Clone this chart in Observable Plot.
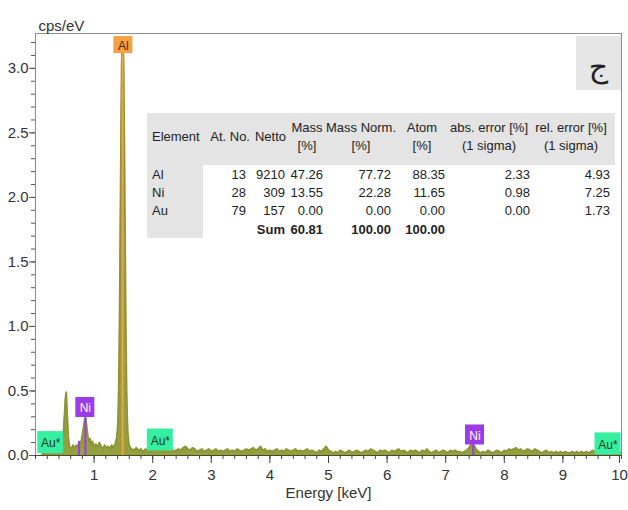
<!DOCTYPE html>
<html>
<head>
<meta charset="utf-8">
<script src="https://cdn.jsdelivr.net/npm/d3@7"></script>
<script src="https://cdn.jsdelivr.net/npm/@observablehq/plot@0.6"></script>
<style>
  body { margin: 0; background: #fff; }
  #chart { position: relative; width: 628px; height: 510px; font-family: "Liberation Sans", Arial, sans-serif; color: #333; }
  #chart svg { position: absolute; left: 0; top: 0; }
  .cell { position: absolute; font-size: 13px; line-height: 16px; white-space: nowrap; color: #222; }
  .bg { position: absolute; background: #e4e4e4; }
  .panel { position: absolute; background: #e6e6e6; text-align: center;
           font-family: "DejaVu Sans", "Noto Sans", sans-serif; font-size: 30px; line-height: 30px; color: #222; }
</style>
</head>
<body>
<div id="chart"></div>
<script>
// Low-energy part of the EDS spectrum (keV, cps/eV), including the O, Ni-L and Al-K peaks
const lowKeV = [0.10, 0.14, 0.18, 0.22, 0.26, 0.30, 0.34, 0.38, 0.42, 0.45, 0.47, 0.49, 0.51, 0.525, 0.54, 0.56, 0.58,
  0.61, 0.64, 0.67, 0.70, 0.72, 0.74, 0.76, 0.78, 0.80, 0.82, 0.84, 0.855, 0.87, 0.89, 0.91, 0.93, 0.95, 0.97,
  1.00, 1.03, 1.06, 1.09, 1.12, 1.15, 1.18, 1.21, 1.24, 1.27, 1.30, 1.33, 1.36, 1.38, 1.40, 1.41, 1.42, 1.43,
  1.44, 1.45, 1.46, 1.47, 1.48, 1.487, 1.495, 1.505, 1.515, 1.525, 1.535, 1.545, 1.555, 1.565, 1.575, 1.59, 1.60, 1.62];
const lowCps = [0.00, 0.02, 0.03, 0.025, 0.04, 0.035, 0.05, 0.06, 0.07, 0.08, 0.13, 0.27, 0.44, 0.49, 0.33, 0.14, 0.07,
  0.05, 0.08, 0.06, 0.08, 0.06, 0.10, 0.07, 0.11, 0.16, 0.22, 0.28, 0.30, 0.24, 0.16, 0.10, 0.13, 0.08, 0.11,
  0.07, 0.09, 0.06, 0.10, 0.07, 0.05, 0.08, 0.06, 0.07, 0.05, 0.08, 0.06, 0.09, 0.12, 0.20, 0.30, 0.50, 0.85,
  1.35, 1.95, 2.50, 3.02, 3.17, 3.20, 3.17, 3.02, 2.50, 1.95, 1.35, 0.85, 0.50, 0.30, 0.18, 0.10, 0.08, 0.06];

// Background from 1.64 keV to 10.00 keV on 0.04 keV channels
const bgStartKeV = 1.64, bgStepKeV = 0.04;
const bgCps = [
  0.05, 0.04, 0.06, 0.04, 0.05, 0.03, 0.05, 0.04, 0.03, 0.05,
  0.04, 0.06, 0.05, 0.04, 0.03, 0.05, 0.04, 0.06, 0.03, 0.04,
  0.05, 0.04, 0.06, 0.07, 0.05, 0.04, 0.06, 0.05, 0.03, 0.04,
  0.05, 0.03, 0.04, 0.05, 0.03, 0.04, 0.05, 0.03, 0.04, 0.03,
  0.04, 0.05, 0.03, 0.04, 0.03, 0.05, 0.04, 0.03, 0.04, 0.05,
  0.04, 0.05, 0.06, 0.04, 0.05, 0.07, 0.04, 0.05, 0.03, 0.04,
  0.03, 0.04, 0.05, 0.03, 0.04, 0.03, 0.05, 0.04, 0.03, 0.04,
  0.05, 0.03, 0.04, 0.03, 0.04, 0.05, 0.03, 0.04, 0.03, 0.02,
  0.04, 0.03, 0.05, 0.07, 0.04, 0.03, 0.02, 0.03, 0.02, 0.04,
  0.03, 0.02, 0.03, 0.04, 0.02, 0.03, 0.04, 0.03, 0.02, 0.03,
  0.04, 0.03, 0.05, 0.04, 0.03, 0.02, 0.04, 0.03, 0.04, 0.03,
  0.02, 0.04, 0.03, 0.04, 0.05, 0.03, 0.04, 0.03, 0.02, 0.04,
  0.03, 0.04, 0.03, 0.02, 0.04, 0.03, 0.05, 0.03, 0.02, 0.03,
  0.04, 0.02, 0.03, 0.04, 0.03, 0.02, 0.04, 0.03, 0.04, 0.03,
  0.03, 0.02, 0.03, 0.04, 0.06, 0.09, 0.08, 0.05, 0.03, 0.02,
  0.03, 0.02, 0.04, 0.03, 0.02, 0.03, 0.04, 0.03, 0.02, 0.04,
  0.03, 0.05, 0.04, 0.05, 0.06, 0.04, 0.05, 0.03, 0.04, 0.05,
  0.04, 0.03, 0.05, 0.04, 0.03, 0.02, 0.03, 0.04, 0.02, 0.03,
  0.02, 0.03, 0.02, 0.03, 0.02, 0.03, 0.02, 0.02, 0.03, 0.02,
  0.03, 0.02, 0.03, 0.02, 0.03, 0.02, 0.03, 0.04, 0.02, 0.03,
  0.02, 0.03, 0.02, 0.03, 0.02, 0.02, 0.03, 0.02, 0.03, 0.02
];

// Element line markers: energy (keV), marker height (cps/eV), element
const lineKeV    = [1.486, 0.851, 0.743, 7.47];
const lineTop    = [3.13, 0.29, 0.11, 0.09];
const lineElem   = ["Al", "Ni", "Ni", "Ni"];

// Element tags drawn above the peaks
const tagText = ["Al", "Ni", "Ni", "Au*", "Au*", "Au*"];
const tagKeV  = [1.50, 0.85, 7.50, 0.26, 2.13, 9.77];
const tagCps  = [3.18, 0.372, 0.159, 0.10, 0.12, 0.09];

// Quantification table
const tableElements = ["Al", "Ni", "Au"];
const atomicNo  = [13, 28, 79];
const netto     = [9210, 309, 157];
const massPct   = [47.26, 13.55, 0.00];
const massNorm  = [77.72, 22.28, 0.00];
const atomPct   = [88.35, 11.65, 0.00];
const absError  = [2.33, 0.98, 0.00];
const relError  = [4.93, 7.25, 1.73];
const sumMass = 60.81, sumMassNorm = 100.00, sumAtom = 100.00;

// Axis ticks
const xTickLabels = [1, 2, 3, 4, 5, 6, 7, 8, 9, 10];
const yTickLabels = [0, 0.5, 1.0, 1.5, 2.0, 2.5, 3.0];

// ---------------------------------------------------------------
const W = 628, H = 510, mL = 35, mR = 7, mT = 33, mB = 55;
const xMax = 10, yMax = 3.27;
const kx = (W - mL - mR) / xMax, ky = (H - mT - mB) / yMax;

const spectrum = lowKeV.map((e, i) => ({e, v: lowCps[i]}))
  .concat(bgCps.map((v, i) => ({e: +(bgStartKeV + i * bgStepKeV).toFixed(2), v})));

const elemColor = {Al: "#f5a045", Ni: "#9b3bea", "Au*": "#36efa0"};
const elemText  = {Al: "#4a2a10", Ni: "#ffffff", "Au*": "#1e3a2a"};
const tagSize   = {Al: [19, 17], Ni: [19, 20], "Au*": [26, 22]};

const lines = lineKeV.map((e, i) => ({e, top: lineTop[i], el: lineElem[i]}));
const tags = tagText.map((t, i) => {
  const [w, h] = tagSize[t];
  return {t, e: tagKeV[i], v: tagCps[i],
    x1: tagKeV[i] - w / 2 / kx, x2: tagKeV[i] + w / 2 / kx,
    y1: tagCps[i] - h / 2 / ky, y2: tagCps[i] + h / 2 / ky};
});

const minorX = d3.range(0, 10.001, 0.2).map(d => +d.toFixed(1));
const minorY = d3.range(0, 3.25, 0.1).map(d => +d.toFixed(1));
const lastX = xTickLabels[xTickLabels.length - 1];

const plot = Plot.plot({
  width: W, height: H,
  marginLeft: mL, marginRight: mR, marginTop: mT, marginBottom: mB,
  x: {domain: [0, xMax]},
  y: {domain: [0, yMax]},
  style: {fontFamily: "'Liberation Sans', Arial, sans-serif", fontSize: "15px", color: "#333", background: "transparent"},
  marks: [
    Plot.frame({stroke: "#8c8c8c", strokeWidth: 1}),
    Plot.areaY(spectrum, {x: "e", y: "v", fill: "#949f3e", curve: "linear", clip: true}),
    Plot.lineY(spectrum, {x: "e", y: "v", stroke: "#8a9636", strokeWidth: 1.8, curve: "linear", clip: true}),
    Plot.ruleX(lines, {x: "e", y1: 0, y2: "top", stroke: d => elemColor[d.el], strokeWidth: 2}),
    Plot.rect(tags, {x1: "x1", x2: "x2", y1: "y1", y2: "y2", fill: d => elemColor[d.t]}),
    Plot.text(tags, {x: "e", y: "v", text: "t", fill: d => elemText[d.t], fontSize: 12, dy: 1}),
    Plot.ruleY([0], {stroke: "#4a4a2a", strokeWidth: 1}),
    // axes
    Plot.axisX({ticks: minorX, tickSize: 4, tickFormat: () => "", label: null, stroke: "#444"}),
    Plot.axisX({ticks: xTickLabels.filter(d => d !== lastX), tickSize: 8, tickPadding: 6, tickFormat: d => String(d), label: null, stroke: "#444", fontSize: 15}),
    Plot.axisX({ticks: [lastX], tickSize: 8, tickPadding: 6, tickFormat: d => String(d), label: null, stroke: "#444", fontSize: 15, dx: -2}),
    Plot.axisY({ticks: minorY, tickSize: 4, tickFormat: () => "", label: null, stroke: "#555"}),
    Plot.axisY({ticks: yTickLabels, tickSize: 6, tickPadding: 1, tickFormat: d3.format(".1f"), label: null, stroke: "#555", fontSize: 15}),
    Plot.text(["cps/eV"], {frameAnchor: "top-left", textAnchor: "start", dx: 3, dy: -13, fontSize: 15, fill: "#333"}),
    Plot.text(["Energy [keV]"], {frameAnchor: "bottom", dy: 42, fontSize: 15, fill: "#333"})
  ]
});

const chart = document.getElementById("chart");
chart.appendChild(plot);

// Quantification table overlay
function addDiv(cls, style, text) {
  const d = document.createElement("div");
  d.className = cls;
  Object.assign(d.style, style);
  if (text != null) d.textContent = text;
  chart.appendChild(d);
  return d;
}
const T = {left: 147, top: 113, right: 615, bottom: 238, headBottom: 165, firstColRight: 203};
addDiv("bg", {left: T.left + "px", top: T.top + "px", width: (T.right - T.left) + "px", height: (T.headBottom - T.top) + "px"});
addDiv("bg", {left: T.left + "px", top: T.headBottom + "px", width: (T.firstColRight - T.left) + "px", height: (T.bottom - T.headBottom) + "px"});
addDiv("", {position: "absolute", background: "#fff", left: T.firstColRight + "px", top: T.headBottom + "px",
  width: (T.right - T.firstColRight) + "px", height: (T.bottom - T.headBottom) + "px"});

const rowY = [175, 193, 211];
const sumY = 230;
const cols = [
  {vals: atomicNo, fmt: d => String(d), right: 246},
  {vals: netto, fmt: d => String(d), right: 285},
  {vals: massPct, fmt: d => d.toFixed(2), right: 323, head: ["Mass", "[%]"], center: 307},
  {vals: massNorm, fmt: d => d.toFixed(2), right: 391, head: ["Mass Norm.", "[%]"], center: 361},
  {vals: atomPct, fmt: d => d.toFixed(2), right: 445, head: ["Atom", "[%]"], center: 422},
  {vals: absError, fmt: d => d.toFixed(2), right: 530, head: ["abs. error [%]", "(1 sigma)"], center: 489},
  {vals: relError, fmt: d => d.toFixed(2), right: 610, head: ["rel. error [%]", "(1 sigma)"], center: 571}
];
function place(text, y, opt) {
  const st = {top: (y - 8) + "px"};
  if (opt.right != null) st.right = (W - opt.right) + "px";
  if (opt.left != null) st.left = opt.left + "px";
  if (opt.center != null) { st.left = opt.center + "px"; st.transform = "translateX(-50%)"; }
  if (opt.bold) st.fontWeight = "bold";
  return addDiv("cell", st, text);
}
place("Element", 137, {left: 152});
place("At. No.", 137, {right: 250});
place("Netto", 137, {right: 286});
cols.forEach(c => {
  if (c.head) { place(c.head[0], 128, {center: c.center}); place(c.head[1], 146, {center: c.center}); }
  c.vals.forEach((v, i) => place(c.fmt(v), rowY[i], {right: c.right}));
});
tableElements.forEach((el, i) => place(el, rowY[i], {left: 152}));
place("Sum", sumY, {right: 285, bold: true});
place(sumMass.toFixed(2), sumY, {right: 323, bold: true});
place(sumMassNorm.toFixed(2), sumY, {right: 391, bold: true});
place(sumAtom.toFixed(2), sumY, {right: 445, bold: true});

// Panel letter
addDiv("panel", {left: "576px", top: "36px", width: "45px", height: "54px", paddingTop: "16px", boxSizing: "border-box"}, "ج");
</script>
</body>
</html>
